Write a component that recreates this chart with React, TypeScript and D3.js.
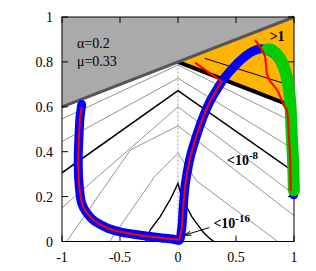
import * as d3 from "d3";

type Pt = [number, number];

const X_TICKS = [-1, -0.5, 0, 0.5, 1];
const X_LABELS = ["-1", "-0.5", "0", "0.5", "1"];
const Y_TICKS = [0, 0.2, 0.4, 0.6, 0.8, 1];
const Y_LABELS = ["0", "0.2", "0.4", "0.6", "0.8", "1"];

// grey forbidden region edge and the ">1" boundary
const greyEdge: Pt[] = [[-1, 0.6], [1, 1]];
const unitEdge: Pt[] = [[0, 0.8], [1, 0.6]];
const orangeLine: Pt[] = [[0.23, 0.816], [1, 0.69]];

// thin contour lines (left end, apex, right end)
const thinContours: Pt[][] = [
  [[-1, 0.546], [0, 0.786], [1, 0.53]],
  [[-1, 0.445], [0, 0.727], [1, 0.41]],
  [[-1, 0.15], [0, 0.6], [1, 0.21]],
  [[-0.96, 0], [-0.41, 0.408], [0, 0.515], [1, 0.115]],
  [[-0.59, 0], [-0.2, 0.29], [0, 0.393], [0.16, 0.27], [0.86, 0]],
];

// thick contours: 10^-8 and 10^-16
const contour8: Pt[] = [[-1, 0.306], [0, 0.672], [1, 0.31]];
const contour16: Pt[] = [
  [-0.28, 0], [-0.24, 0.051], [-0.155, 0.11], [-0.069, 0.185], [0, 0.259],
  [0.03, 0.2], [0.075, 0.155], [0.12, 0.11], [0.161, 0.081], [0.22, 0.04], [0.27, 0.015], [0.31, 0],
];

const bluePath: Pt[] = [
  [-0.83, 0.61], [-0.845, 0.55], [-0.855, 0.45], [-0.86, 0.38], [-0.858, 0.3], [-0.85, 0.24],
  [-0.83, 0.17], [-0.79, 0.13], [-0.74, 0.1], [-0.68, 0.078], [-0.6, 0.058], [-0.5, 0.043],
  [-0.38, 0.032], [-0.26, 0.023], [-0.14, 0.016], [-0.05, 0.011], [0.01, 0.006],
  [0.03, 0.05], [0.045, 0.15], [0.06, 0.244], [0.08, 0.31], [0.105, 0.375], [0.135, 0.43],
  [0.175, 0.495], [0.218, 0.556], [0.27, 0.618], [0.333, 0.675], [0.4, 0.728], [0.477, 0.775],
  [0.55, 0.812], [0.62, 0.84], [0.68, 0.855], [0.735, 0.858], [0.78, 0.85],
  [0.84, 0.83], [0.88, 0.8], [0.915, 0.76], [0.94, 0.71], [0.96, 0.64], [0.975, 0.55],
  [0.985, 0.45], [0.99, 0.35], [0.995, 0.26], [0.997, 0.208],
];

const redPath: Pt[] = [
  [-0.83, 0.6], [-0.845, 0.55], [-0.855, 0.45], [-0.86, 0.38], [-0.858, 0.3], [-0.85, 0.24],
  [-0.83, 0.17], [-0.79, 0.13], [-0.74, 0.1], [-0.68, 0.078], [-0.6, 0.058], [-0.5, 0.043],
  [-0.38, 0.032], [-0.26, 0.023], [-0.14, 0.016], [-0.05, 0.011], [0.01, 0.008],
  [0.03, 0.05], [0.045, 0.15], [0.06, 0.244], [0.08, 0.31], [0.105, 0.375], [0.135, 0.43],
  [0.175, 0.495], [0.218, 0.556], [0.27, 0.618], [0.333, 0.675], [0.377, 0.712],
  [0.147, 0.797],
];

const greenPath: Pt[] = [
  [0.765, 0.855], [0.8, 0.855], [0.84, 0.84], [0.879, 0.816], [0.91, 0.78], [0.937, 0.734],
  [0.955, 0.68], [0.966, 0.63], [0.975, 0.55], [0.98, 0.48], [0.988, 0.4], [0.994, 0.333],
  [0.997, 0.27], [0.999, 0.228],
];

const redPath2: Pt[] = [
  [0.664, 0.897], [0.7, 0.872], [0.73, 0.85], [0.75, 0.825], [0.758, 0.79], [0.765, 0.749],
  [0.785, 0.722], [0.808, 0.705], [0.84, 0.685], [0.865, 0.665], [0.89, 0.635], [0.91, 0.607],
  [0.935, 0.59], [0.945, 0.565], [0.95, 0.527], [0.958, 0.45], [0.966, 0.378], [0.97, 0.3],
  [0.972, 0.225],
];

const arrowFrom: Pt = [0.27, 0.062];
const arrowTo: Pt = [0.055, 0.028];

const W = 316;
const H = 271;
const FONT = "'Liberation Serif', 'DejaVu Serif', serif";

export default function App() {
  const x = d3.scaleLinear().domain([-1, 1]).range([62, 294]);
  const y = d3.scaleLinear().domain([0, 1]).range([241.5, 17]);
  const line = d3.line<Pt>().x((d) => x(d[0])).y((d) => y(d[1]));
  const smooth = d3
    .line<Pt>()
    .x((d) => x(d[0]))
    .y((d) => y(d[1]))
    .curve(d3.curveCatmullRom.alpha(0.5));

  // regions
  const greyPoly: Pt[] = [[-1, 1], ...greyEdge.slice().reverse(), [-1, greyEdge[0][1]]];
  const orangePoly: Pt[] = [[0, 0.8], [1, 1], [1, 0.6]];

  // arrow head
  const ax1 = x(arrowFrom[0]);
  const ay1 = y(arrowFrom[1]);
  const ax2 = x(arrowTo[0]);
  const ay2 = y(arrowTo[1]);
  const ang = Math.atan2(ay2 - ay1, ax2 - ax1);
  const hl = 7;
  const head = [ang + Math.PI - 0.3, ang + Math.PI + 0.3].map((a) => [
    ax2 + hl * Math.cos(a),
    ay2 + hl * Math.sin(a),
  ]);

  const x0 = x(-1);
  const x1 = x(1);
  const y0 = y(0);
  const y1 = y(1);
  const tick = 6;

  return (
    <svg
      width={W}
      height={H}
      style={{ position: "fixed", left: 0, top: 0, background: "#fff" }}
      fontFamily={FONT}
    >
      <defs>
        <clipPath id="plot">
          <rect x={x0} y={y1} width={x1 - x0} height={y0 - y1} />
        </clipPath>
      </defs>

      <path d={line(greyPoly) ?? ""} fill="#aaaaaa" />
      <path d={line(orangePoly) ?? ""} fill="#ffb400" />

      <g clipPath="url(#plot)">
        {thinContours.map((c, i) => (
          <path key={i} d={line(c) ?? ""} fill="none" stroke="#666" strokeWidth={0.7} />
        ))}
        <line
          x1={x(0)}
          x2={x(0)}
          y1={y(0)}
          y2={y(0.8)}
          stroke="#888"
          strokeWidth={0.8}
          strokeDasharray="2,2"
        />
        <path d={line(contour8) ?? ""} fill="none" stroke="#000" strokeWidth={1.6} />
        <path d={line(contour16) ?? ""} fill="none" stroke="#000" strokeWidth={1.4} />
        <path d={line(orangeLine) ?? ""} fill="none" stroke="#000" strokeWidth={1} />
      </g>

      <path d={line(unitEdge) ?? ""} fill="none" stroke="#000" strokeWidth={4} />
      <path d={line(greyEdge) ?? ""} fill="none" stroke="#555" strokeWidth={3} />

      {/* frame */}
      <rect x={x0} y={y1} width={x1 - x0} height={y0 - y1} fill="none" stroke="#000" strokeWidth={1} />
      {X_TICKS.map((t) => (
        <g key={"xt" + t}>
          <line x1={x(t)} x2={x(t)} y1={y0} y2={y0 - tick} stroke="#000" />
          <line x1={x(t)} x2={x(t)} y1={y1} y2={y1 + tick} stroke="#000" />
        </g>
      ))}
      {Y_TICKS.map((t) => (
        <g key={"yt" + t}>
          <line x1={x0} x2={x0 + tick} y1={y(t)} y2={y(t)} stroke="#000" />
          <line x1={x1} x2={x1 - tick} y1={y(t)} y2={y(t)} stroke="#000" />
        </g>
      ))}

      {/* trajectories */}
      <path
        d={smooth(bluePath) ?? ""}
        fill="none"
        stroke="#0000ff"
        strokeWidth={9}
        strokeLinecap="round"
        strokeLinejoin="round"
      />
      <path
        d={line(redPath) ?? ""}
        fill="none"
        stroke="#ff0000"
        strokeWidth={2}
        strokeLinejoin="round"
      />
      <path
        d={smooth(greenPath) ?? ""}
        fill="none"
        stroke="#00cc00"
        strokeWidth={12}
        strokeLinecap="round"
        strokeLinejoin="round"
      />
      <path
        d={line(redPath2) ?? ""}
        fill="none"
        stroke="#ff0000"
        strokeWidth={2}
        strokeLinejoin="round"
      />

      {/* arrow */}
      <line x1={ax1} y1={ay1} x2={ax2} y2={ay2} stroke="#000" strokeWidth={1} />
      {head.map((p, i) => (
        <line key={i} x1={ax2} y1={ay2} x2={p[0]} y2={p[1]} stroke="#000" strokeWidth={1} />
      ))}

      {/* tick labels */}
      {X_TICKS.map((t, i) => (
        <text key={"xl" + t} x={x(t)} y={262} textAnchor="middle" fontSize={14}>
          {X_LABELS[i]}
        </text>
      ))}
      {Y_TICKS.map((t, i) => (
        <text key={"yl" + t} x={53} y={y(t) + 5} textAnchor="end" fontSize={14}>
          {Y_LABELS[i]}
        </text>
      ))}

      {/* annotations */}
      <text x={x(-0.871)} y={y(0.862)} fontSize={14}>
        α=0.2
      </text>
      <text x={x(-0.871)} y={y(0.782)} fontSize={14}>
        μ=0.33
      </text>
      <text x={x(0.79)} y={y(0.891)} fontSize={14} fontWeight="bold">
        &gt;1
      </text>
      <text x={x(0.422)} y={y(0.341)} fontSize={14} fontWeight="bold">
        &lt;10
        <tspan dy={-6} fontSize={11}>
          -8
        </tspan>
      </text>
      <text x={x(0.305)} y={y(0.062)} fontSize={14} fontWeight="bold">
        &lt;10
        <tspan dy={-6} fontSize={11}>
          -16
        </tspan>
      </text>
    </svg>
  );
}
